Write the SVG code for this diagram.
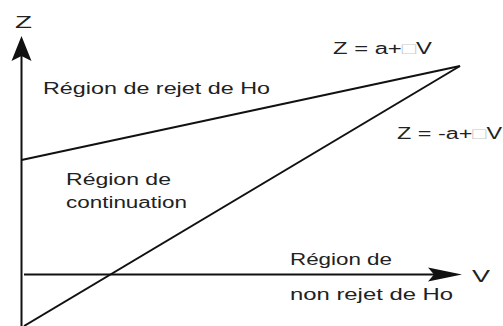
<svg xmlns="http://www.w3.org/2000/svg" width="503" height="326" viewBox="0 0 503 326">
<style>
.ln{stroke:#111;stroke-width:2;fill:none}
.ah{fill:#111}
.t{font-family:"Liberation Sans",Arial,sans-serif;font-size:16px;fill:#222}
.box{fill:#c8c8c8}
</style>
<rect width="503" height="326" fill="#fff"/>
<g id="connectors">
<line class="ln" x1="21.5" y1="326" x2="21.5" y2="52"/>
<polygon class="ah" points="21.5,36 31.5,61 21.5,56 11.5,61"/>
<line class="ln" x1="24" y1="274.5" x2="446" y2="274.5"/>
<polygon class="ah" points="462,274.5 428,267.5 434,274.5 428,281.5"/>
<line class="ln" x1="21.5" y1="160" x2="460" y2="66"/>
<line class="ln" x1="24" y1="326" x2="460" y2="66"/>
</g>
<g id="label-z"><text class="t" x="15" y="28" font-size="14" textLength="17" lengthAdjust="spacingAndGlyphs">Z</text></g>
<g id="label-v"><text class="t" x="472" y="282" font-size="15" textLength="18" lengthAdjust="spacingAndGlyphs">V</text></g>
<g id="label-upper"><text class="t" x="333" y="54" textLength="99" lengthAdjust="spacingAndGlyphs">Z = a+<tspan class="box">□</tspan>V</text></g>
<g id="label-lower"><text class="t" x="397" y="139" textLength="105" lengthAdjust="spacingAndGlyphs">Z = -a+<tspan class="box">□</tspan>V</text></g>
<g id="region-rejet"><text class="t" x="43" y="94" textLength="227" lengthAdjust="spacingAndGlyphs">Région de rejet de Ho</text></g>
<g id="region-continuation">
<text class="t" x="66" y="185" textLength="105" lengthAdjust="spacingAndGlyphs">Région de</text>
<text class="t" x="66" y="208" textLength="121" lengthAdjust="spacingAndGlyphs">continuation</text>
</g>
<g id="region-non-rejet">
<text class="t" x="290" y="265" textLength="102" lengthAdjust="spacingAndGlyphs">Région de</text>
<text class="t" x="290" y="300" textLength="163" lengthAdjust="spacingAndGlyphs">non rejet de Ho</text>
</g>
</svg>
